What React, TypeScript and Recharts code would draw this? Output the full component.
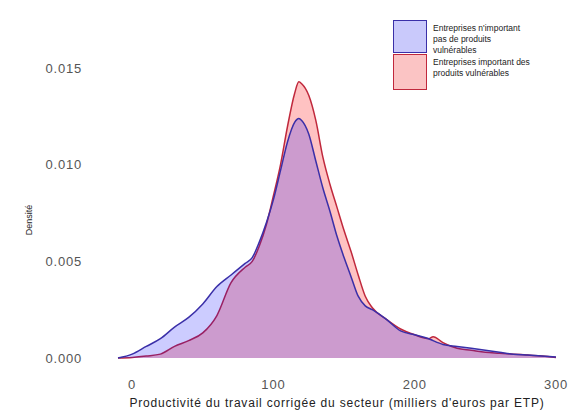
import React from 'react';
import { ComposedChart, Area, XAxis, YAxis, Label } from 'recharts';

// Productivité (milliers d'euros par ETP)
const productivite = [
  -10, 0, 10, 20, 30, 40, 50, 60, 70, 80, 85, 90, 95, 100, 105, 110, 115, 118, 120,
  125, 130, 135, 140, 145, 150, 155, 160, 165, 170, 180, 190, 200, 210, 213, 220,
  230, 240, 250, 260, 270, 280, 290, 300,
];

// Entreprises n'important pas de produits vulnérables
const densiteNonImport = [
  0, 0.0002, 0.0006, 0.001, 0.0016, 0.0021, 0.0028, 0.0037, 0.0043, 0.0049, 0.0052,
  0.006, 0.007, 0.0082, 0.0097, 0.0112, 0.0122, 0.0124, 0.0123, 0.0116, 0.0102,
  0.0088, 0.0076, 0.0063, 0.0052, 0.0042, 0.0032, 0.0027, 0.0025, 0.002, 0.0014,
  0.0012, 0.001, 0.0009, 0.0007, 0.0006, 0.0005, 0.0004, 0.0003, 0.0002, 0.00015,
  0.0001, 0.00005,
];

// Entreprises important des produits vulnérables
const densiteImport = [
  0, 0.00003, 0.0001, 0.0002, 0.0006, 0.0009, 0.0013, 0.0022, 0.0039, 0.0047, 0.005,
  0.0058, 0.0069, 0.0084, 0.01, 0.012, 0.0137, 0.0143, 0.0142, 0.0136, 0.0123,
  0.0104, 0.009, 0.0078, 0.0066, 0.0055, 0.0043, 0.0032, 0.0026, 0.002, 0.0015,
  0.0012, 0.001, 0.0011, 0.0008, 0.0005, 0.0004, 0.0003, 0.00025, 0.0002, 0.00015,
  0.0001, 0.00003,
];

const xTicks = [0, 100, 200, 300];
const yTicks = [0, 0.005, 0.01, 0.015];

const legendItems = [
  { label: "Entreprises n'important pas de produits vulnérables", fill: '#c9c9fb', stroke: '#3a2fa8' },
  { label: 'Entreprises important des produits vulnérables', fill: '#fbc4c4', stroke: '#c0283c' },
];

const data = productivite.map((x, i) => ({
  x,
  nonImport: densiteNonImport[i],
  import: densiteImport[i],
}));

const FONT = '"Liberation Sans", Arial, sans-serif';
const tickStyle = { fill: '#555', fontSize: 13, fontFamily: FONT, letterSpacing: 0.8 };

export default function App() {
  return (
    <div style={{ position: 'absolute', left: 0, top: 0, width: 578, height: 410, background: '#fff', fontFamily: FONT }}>
      <ComposedChart width={578} height={410} data={data} margin={{ top: 49, right: 22, left: 0, bottom: 0 }}>
        <XAxis
          dataKey="x"
          type="number"
          domain={[-10, 300]}
          ticks={xTicks}
          axisLine={false}
          tickLine={false}
          tickSize={0}
          tickMargin={22}
          height={52}
          tick={tickStyle}
        >
          <Label
            value="Productivité du travail corrigée du secteur (milliers d'euros par ETP)"
            position="insideBottom"
            offset={3}
            style={{ fill: '#222', fontSize: 12, fontFamily: FONT, letterSpacing: 0.8 }}
          />
        </XAxis>
        <YAxis
          type="number"
          domain={[0, 0.016]}
          ticks={yTicks}
          width={118}
          axisLine={false}
          tickLine={false}
          tickSize={0}
          tickMargin={36}
          tickFormatter={(v: number) => v.toFixed(3)}
          tick={tickStyle}
        />
        <Area
          type="monotone"
          dataKey="import"
          fill="#ff0000"
          fillOpacity={0.24}
          stroke="#c0283c"
          strokeWidth={1.5}
          isAnimationActive={false}
        />
        <Area
          type="monotone"
          dataKey="nonImport"
          fill="#0000ff"
          fillOpacity={0.2}
          stroke="#3a2fa8"
          strokeWidth={1.5}
          isAnimationActive={false}
        />
      </ComposedChart>

      {/* Densité label */}
      <div
        style={{
          position: 'absolute',
          left: 29,
          top: 220,
          transform: 'translate(-50%, -50%) rotate(-90deg)',
          fontSize: 9,
          color: '#222',
          whiteSpace: 'nowrap',
        }}
      >
        Densité
      </div>

      {/* legend */}
      <div style={{ position: 'absolute', left: 393, top: 20 }}>
        {legendItems.map((item, i) => (
          <div key={i} style={{ display: 'flex', alignItems: 'flex-start', height: i === 0 ? 34 : 37 }}>
            <div
              style={{
                width: 32,
                height: i === 0 ? 31 : 34,
                background: item.fill,
                border: `1.5px solid ${item.stroke}`,
                flexShrink: 0,
              }}
            />
            <div style={{ marginLeft: 6, marginTop: 3, width: 100, fontSize: 8.5, lineHeight: '11px', color: '#222' }}>
              {item.label}
            </div>
          </div>
        ))}
      </div>
    </div>
  );
}
